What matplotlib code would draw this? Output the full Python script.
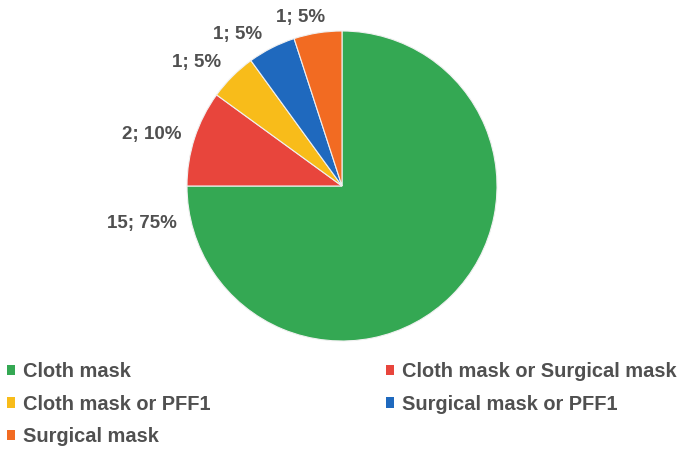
import numpy as np
import matplotlib.pyplot as plt
from matplotlib.patches import Patch

plt.rcParams['font.family'] = ['Liberation Sans', 'DejaVu Sans']

# Data
categories = ['Cloth mask', 'Cloth mask or Surgical mask', 'Cloth mask or PFF1',
              'Surgical mask or PFF1', 'Surgical mask']
counts = [15, 2, 1, 1, 1]
percents = [75, 10, 5, 5, 5]
colors = ['#34A853', '#E8453C', '#F8BC1A', '#1F69BE', '#F26B22']

# label positions (data units, radius = 1)
label_pos = [(-1.29, -0.24), (-1.226, 0.33), (-0.94, 0.80), (-0.677, 0.98), (-0.265, 1.09)]

txt_color = '#505050'

fig = plt.figure(figsize=(6.86, 4.49), dpi=100)
W, H = 686, 449
cx, cy, r = 342, 186, 155
ax = fig.add_axes([(cx - r) / W, (H - cy - r) / H, 2 * r / W, 2 * r / H])

wedges, _ = ax.pie(counts, colors=colors, startangle=90, counterclock=False,
                   wedgeprops=dict(edgecolor='#f0f0f0', linewidth=0.8))
ax.set_xlim(-1, 1)
ax.set_ylim(-1, 1)
ax.set_aspect('equal')
ax.axis('off')

for (x, y), c, p in zip(label_pos, counts, percents):
    ax.text(x, y, f'{c}; {p}%', ha='center', va='center', fontsize=13.5,
            fontweight='bold', color=txt_color, clip_on=False)

handles = [Patch(facecolor=col, edgecolor='none') for col in colors]

left = [0, 2, 4]
right = [1, 3]
kw = dict(frameon=False, handlelength=0.42, handleheight=0.42,
          handletextpad=0.4, labelspacing=0.68, borderaxespad=0, borderpad=0,
          labelcolor=txt_color, prop=dict(weight='bold', size=14.4))
leg1 = fig.legend([handles[i] for i in left], [categories[i] for i in left],
                  loc='upper left', bbox_to_anchor=(7 / W, 1 - 362 / H), **kw)
leg2 = fig.legend([handles[i] for i in right], [categories[i] for i in right],
                  loc='upper left', bbox_to_anchor=(386 / W, 1 - 362 / H), **kw)

fig.savefig('out.png', dpi=100)
